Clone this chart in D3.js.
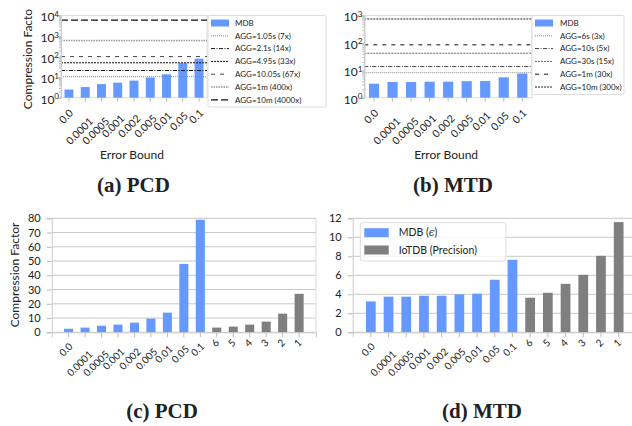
<!DOCTYPE html>
<html>
<head>
<meta charset="utf-8">
<script src="https://cdn.jsdelivr.net/npm/d3@7"></script>
<style>
  body { margin: 0; background: #fff; }
  text { font-family: Lato, "Open Sans", sans-serif; fill: #222; }
  .title { font-family: "Liberation Serif", "DejaVu Serif", serif; font-weight: bold; }
</style>
</head>
<body>
<script>
// data
const errorBounds = ["0.0", "0.0001", "0.0005", "0.001", "0.002", "0.005", "0.01", "0.05", "0.1"];
const precisions = ["6", "5", "4", "3", "2", "1"];

const pcdMdb = [2.5, 3.3, 4.6, 5.4, 6.8, 9.6, 13.8, 48, 79];
const pcdIotdb = [3.3, 4.0, 5.4, 7.5, 13.1, 27];
const mtdMdb = [3.25, 3.75, 3.75, 3.85, 3.85, 4.0, 4.06, 5.53, 7.63];
const mtdIotdb = [3.64, 4.16, 5.1, 6.05, 8.05, 11.6];

const pcdAggLabels = ["AGG=1.05s (7x)", "AGG=2.1s (14x)", "AGG=4.95s (33x)", "AGG=10.05s (67x)", "AGG=1m (400x)", "AGG=10m (4000x)"];
const pcdAggValues = [10.5, 21, 50, 100, 600, 6000];
const mtdAggLabels = ["AGG=6s (3x)", "AGG=10s (5x)", "AGG=30s (15x)", "AGG=1m (30x)", "AGG=10m (300x)"];
const mtdAggValues = [8.2, 13.7, 42, 85, 745];

const pcdTicks = [0, 10, 20, 30, 40, 50, 60, 70, 80];
const mtdTicks = [0, 2, 4, 6, 8, 10, 12];

//constants
const w = 632, h = 426;
const blue = "#6699ff", gray = "#7f7f7f";

const pcdStyles = [
  {stroke: "#888", dash: "1,1", width: 1},
  {stroke: "#111", dash: "4,1.5,1,1.5", width: 1},
  {stroke: "#111", dash: "2,1", width: 1},
  {stroke: "#444", dash: "4,5", width: 1},
  {stroke: "#999", dash: "1.5,1", width: 1.5},
  {stroke: "#111", dash: "7,3", width: 1.2}
];
const mtdStyles = [
  {stroke: "#888", dash: "1,1", width: 1},
  {stroke: "#444", dash: "4,1.5,1,1.5", width: 1},
  {stroke: "#666", dash: "2,1", width: 1},
  {stroke: "#111", dash: "4,5", width: 1},
  {stroke: "#222", dash: "2,1", width: 1}
];

const svg = d3.select("body").append("svg")
  .attr("width", w).attr("height", h);

function styleAxis(g) {
  g.select(".domain").attr("stroke", "#ccc");
  g.selectAll(".tick line").attr("stroke", "#bbb");
}

// rotated tick labels, end of text pushed a bit further out for long labels
function rotLabels(sel, base, fs) {
  sel.attr("font-size", fs).attr("fill", "#222")
    .attr("text-anchor", "end")
    .attr("y", 0).attr("dy", 0)
    .attr("transform", function() {
      const L = this.getComputedTextLength();
      return "translate(" + (2 + 0.2 * L) + "," + (base + 0.45 * L) + ") rotate(-45)";
    });
}

// log scale panels (a) and (b)
function logPanel(c) {
  const x = d3.scaleBand().domain(errorBounds)
    .range([c.left, c.right]).paddingInner(0.45).paddingOuter(c.po);
  const y = d3.scaleLog().domain([1, Math.pow(10, c.maxExp)]).range([c.bottom, c.top]);

  svg.append("rect")
    .attr("x", c.left).attr("y", c.top)
    .attr("width", c.right - c.left).attr("height", c.bottom - c.top)
    .attr("fill", "none").attr("stroke", "#ddd");

  svg.append("g").selectAll("rect")
    .data(c.values).enter().append("rect")
    .attr("x", (d, i) => x(errorBounds[i]))
    .attr("width", x.bandwidth())
    .attr("y", d => y(d))
    .attr("height", d => c.bottom - y(d))
    .attr("fill", blue);

  svg.append("g").selectAll("line")
    .data(c.lines).enter().append("line")
    .attr("x1", c.left).attr("x2", c.right)
    .attr("y1", d => y(d)).attr("y2", d => y(d))
    .attr("stroke", (d, i) => c.styles[i].stroke)
    .attr("stroke-width", (d, i) => c.styles[i].width)
    .attr("stroke-dasharray", (d, i) => c.styles[i].dash);

  // minor ticks
  const minors = [];
  for (let e = 0; e < c.maxExp; e++)
    for (let m = 2; m < 10; m++) minors.push(m * Math.pow(10, e));
  svg.append("g").attr("transform", "translate(" + c.left + ",0)")
    .call(d3.axisLeft(y).tickValues(minors).tickSize(2).tickFormat(""))
    .call(styleAxis);

  const majors = d3.range(c.maxExp + 1).map(e => Math.pow(10, e));
  const yAxis = svg.append("g").attr("transform", "translate(" + c.left + ",0)")
    .call(d3.axisLeft(y).tickValues(majors).tickSize(3).tickFormat(""))
    .call(styleAxis);
  yAxis.selectAll(".tick").append("text")
    .attr("x", -2).attr("dy", "0.45em")
    .attr("text-anchor", "end").attr("font-size", 12)
    .each(function(d) {
      const t = d3.select(this);
      t.append("tspan").text("10");
      t.append("tspan").attr("dy", "-0.55em").attr("font-size", 8)
        .text(Math.round(Math.log10(d)));
    });

  const xAxis = svg.append("g").attr("transform", "translate(0," + c.bottom + ")")
    .call(d3.axisBottom(x).tickSize(4).tickPadding(0))
    .call(styleAxis);
  xAxis.select(".domain").remove();
  xAxis.selectAll(".tick text").call(rotLabels, 9.5, 10.5);

  svg.append("text")
    .attr("x", (c.left + c.right) / 2 - 2).attr("y", 159)
    .attr("text-anchor", "middle").attr("font-size", 12)
    .text("Error Bound");

  // legend
  const lg = svg.append("g");
  lg.append("rect")
    .attr("x", c.lgX).attr("y", c.top)
    .attr("width", c.lgW).attr("height", c.lgH)
    .attr("fill", "#fff").attr("stroke", "#ddd").attr("rx", 1.5);
  const rowY = i => c.top + 7.5 + i * 12.8;
  lg.append("rect")
    .attr("x", c.lgX + 3).attr("y", rowY(0) - 3.5)
    .attr("width", 18).attr("height", 7).attr("fill", blue);
  lg.append("text")
    .attr("x", c.lgTx).attr("y", rowY(0)).attr("dy", "0.35em")
    .attr("font-size", 8).text("MDB");
  c.labels.forEach((lab, i) => {
    const s = c.styles[i];
    lg.append("line")
      .attr("x1", c.lgX + 3).attr("x2", c.lgX + 21)
      .attr("y1", rowY(i + 1)).attr("y2", rowY(i + 1))
      .attr("stroke", s.stroke).attr("stroke-width", s.width)
      .attr("stroke-dasharray", s.dash);
    lg.append("text")
      .attr("x", c.lgTx).attr("y", rowY(i + 1)).attr("dy", "0.35em")
      .attr("font-size", 8).text(lab);
  });
}

logPanel({left: 61, right: 207, top: 15.5, bottom: 97.7, maxExp: 4, po: 0.215,
  values: pcdMdb, lines: pcdAggValues, styles: pcdStyles, labels: pcdAggLabels,
  lgX: 208, lgW: 118, lgH: 91.5, lgTx: 235});
logPanel({left: 364.3, right: 532, top: 15.5, bottom: 97.7, maxExp: 3, po: 0.25,
  values: mtdMdb, lines: mtdAggValues, styles: mtdStyles, labels: mtdAggLabels,
  lgX: 532, lgW: 92, lgH: 79, lgTx: 560});

svg.append("text")
  .attr("transform", "translate(31.5,59) rotate(-90)")
  .attr("text-anchor", "middle").attr("font-size", 12)
  .text("Compression Facto");

// linear panels (c) and (d)
function linPanel(c) {
  const cats = errorBounds.concat(precisions);
  const x = d3.scaleBand().domain(cats)
    .range([c.left, c.right]).paddingInner(0.45).paddingOuter(0.75);
  const y = d3.scaleLinear().domain([0, d3.max(c.ticks)]).range([c.bottom, c.top]);

  // grid
  svg.append("g").selectAll("line")
    .data(c.ticks).enter().append("line")
    .attr("x1", c.left).attr("x2", c.right)
    .attr("y1", d => y(d)).attr("y2", d => y(d))
    .attr("stroke", "#c8c8c8");
  svg.append("line")
    .attr("x1", c.right).attr("x2", c.right)
    .attr("y1", c.top).attr("y2", c.bottom)
    .attr("stroke", "#ddd");

  const vals = c.mdb.concat(c.iotdb);
  svg.append("g").selectAll("rect")
    .data(vals).enter().append("rect")
    .attr("x", (d, i) => x(cats[i]))
    .attr("width", x.bandwidth())
    .attr("y", d => y(d))
    .attr("height", d => c.bottom - y(d))
    .attr("fill", (d, i) => i < errorBounds.length ? blue : gray);

  svg.append("g").attr("transform", "translate(" + c.left + ",0)")
    .call(d3.axisLeft(y).tickValues(c.ticks).tickSize(5).tickPadding(6))
    .call(styleAxis)
    .selectAll(".tick text").attr("font-size", 11).attr("fill", "#222");

  const xAxis = svg.append("g").attr("transform", "translate(0," + c.bottom + ")")
    .call(d3.axisBottom(x).tickSize(5).tickPadding(0))
    .call(styleAxis);
  xAxis.selectAll(".tick text").call(rotLabels, 8.5, 10);
}

linPanel({left: 51.7, right: 316, top: 218.3, bottom: 332.3, ticks: pcdTicks,
  mdb: pcdMdb, iotdb: pcdIotdb});
linPanel({left: 352.7, right: 636.8, top: 218.3, bottom: 332.3, ticks: mtdTicks,
  mdb: mtdMdb, iotdb: mtdIotdb});

svg.append("text")
  .attr("transform", "translate(19,275) rotate(-90)")
  .attr("text-anchor", "middle").attr("font-size", 12)
  .text("Compression Factor");

// legend (d)
const legD = svg.append("g");
legD.append("rect")
  .attr("x", 360.3).attr("y", 222.7).attr("width", 145.7).attr("height", 38.3)
  .attr("rx", 2).attr("fill", "#fff").attr("fill-opacity", 0.85).attr("stroke", "#ddd");
[["MDB (", blue], ["IoTDB (Precision)", gray]].forEach((it, i) => {
  const yy = 232.7 + i * 17.3;
  legD.append("rect").attr("x", 364.3).attr("y", yy - 4.5)
    .attr("width", 24.4).attr("height", 9).attr("fill", it[1]);
  const t = legD.append("text").attr("x", 398.7).attr("y", yy).attr("dy", "0.35em")
    .attr("font-size", 10.5);
  if (i === 0) {
    t.append("tspan").text("MDB (");
    t.append("tspan").attr("font-style", "italic").attr("font-family", "DejaVu Serif").text("ϵ");
    t.append("tspan").text(")");
  } else {
    t.text(it[0]);
  }
});

// titles
[["(a) PCD", 133.5, 192], ["(b) MTD", 453, 192], ["(c) PCD", 162, 418], ["(d) MTD", 482, 418]]
  .forEach(t => {
    svg.append("text").attr("class", "title")
      .attr("x", t[1]).attr("y", t[2])
      .attr("text-anchor", "middle").attr("font-size", 21)
      .text(t[0]);
  });
</script>
</body>
</html>
